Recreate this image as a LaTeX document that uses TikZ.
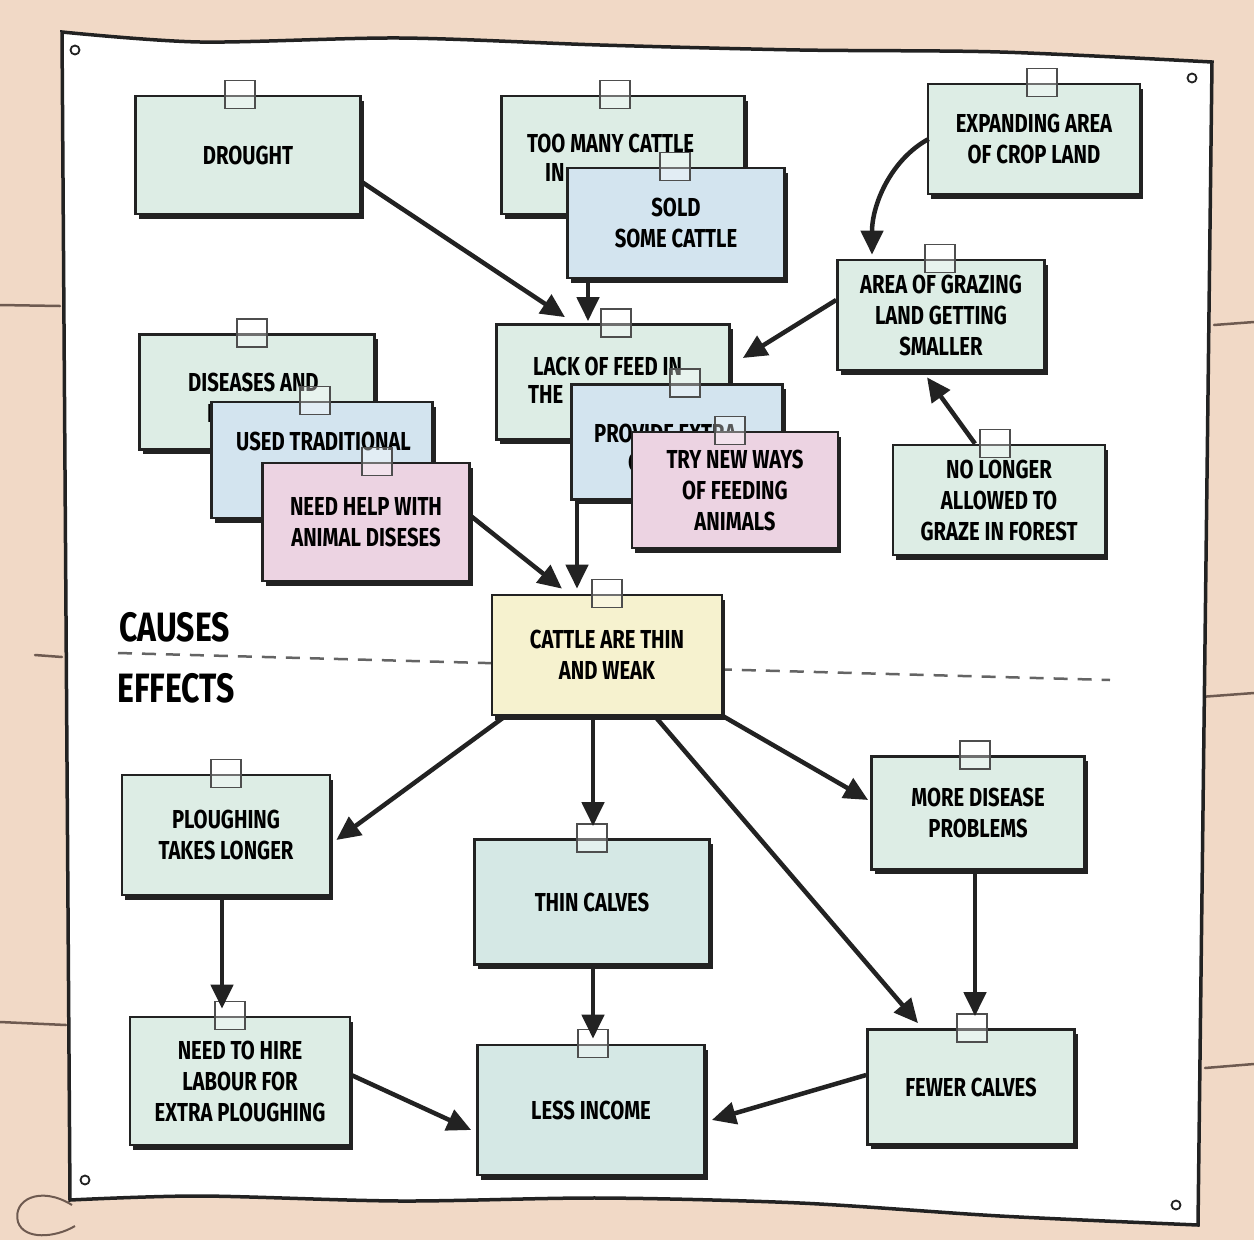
\documentclass[tikz,border=0pt]{standalone}
\usepackage{fontspec}
\newfontfamily\handfont{Fira Sans}[FakeStretch=0.78]
\usetikzlibrary{arrows.meta,shadows,calc}
\definecolor{bg}{HTML}{F1D9C6}
\definecolor{plank}{HTML}{6E5A50}
\definecolor{cgreen}{HTML}{DDEDE5}
\definecolor{cblue}{HTML}{D3E4EF}
\definecolor{cpink}{HTML}{ECD3E2}
\definecolor{cyellow}{HTML}{F6F2CF}
\definecolor{cteal}{HTML}{D5E8E5}
\definecolor{ink}{HTML}{222222}
\tikzset{
  card/.style={rectangle, draw=ink, line width=2.7pt, align=center, inner sep=4pt,
    font=\handfont\bfseries\fontsize{26}{31}\selectfont,
    drop shadow={shadow xshift=3pt, shadow yshift=-4.5pt, fill=ink, opacity=1}},
  sz/.style 2 args={minimum width=#1, minimum height=#2},
  handtext/.style={anchor=west, inner sep=0pt, font=\handfont\bfseries\fontsize{26}{31}\selectfont},
  bigtext/.style={anchor=west, inner sep=0pt, font=\handfont\bfseries\fontsize{41}{44}\selectfont},
  tapest/.style={draw=ink!80, line width=1.6pt, fill=white, fill opacity=0.35},
  arr/.style={draw=ink, line width=4.5pt, -{Triangle[length=24pt,width=22pt]}},
  poster/.style={draw=ink, line width=3.5pt, fill=white},
  plankline/.style={draw=plank, line width=2.5pt, line cap=round},
  divider/.style={draw=ink!70, line width=2.5pt, dash pattern=on 14pt off 10pt},
  pin/.style={draw=ink, line width=1.8pt, fill=white}
}
\newcommand\tapeon[2]{\draw[tapest] ($(#1.north)+(#2-15,-14)$) rectangle ($(#1.north)+(#2+15,14)$);}
\begin{document}
\begin{tikzpicture}[x=1pt,y=-1pt]
\useasboundingbox (0,0) rectangle (1254,1240);
\fill[bg] (0,0) rectangle (1254,1240);
% planks
\draw[plankline] (0,305) -- (60,306);
\draw[plankline] (35,655) -- (62,657);
\draw[plankline] (0,1022) -- (66,1025);
\draw[plankline] (1214,325) -- (1254,322);
\draw[plankline] (1200,697) -- (1254,693);
\draw[plankline] (1205,1068) -- (1254,1064);
\draw[plank, line width=2pt] (72,1205) .. controls (40,1185) and (12,1200) .. (18,1222) .. controls (24,1240) and (55,1238) .. (75,1226);
% poster
\draw[poster] plot[smooth] coordinates {(62,32) (200,42) (400,38) (600,45) (800,50) (1000,52) (1212,62)}
  -- (1198,1225)
  -- plot[smooth] coordinates {(1198,1225) (1000,1216) (800,1203) (600,1198) (400,1201) (200,1196) (70,1200)}
  -- cycle;
\draw[pin] (75,50) circle (4.5);
\draw[pin] (1192,78) circle (4.5);
\draw[pin] (85,1180) circle (4.5);
\draw[pin] (1176,1205) circle (4.5);
% divider
\coordinate (divL) at (118,653);
\coordinate (divR) at (1110,680);
\draw[divider] (divL) -- (divR);
\node[bigtext] (causes) at (119,627) {CAUSES};
\node[bigtext] (effects) at (117,688) {EFFECTS};
% causes cards
\node[card, sz={225pt}{118pt}, fill=cgreen] (drought) at (248,155) {DROUGHT};
\tapeon{drought}{-8}
\node[card, sz={243pt}{118pt}, fill=cgreen] (toomany) at (623,155) {};
\tapeon{toomany}{-8}
\node[handtext] (toomanyA) at (527,143) {TOO MANY CATTLE};
\node[handtext] (toomanyB) at (545,172) {IN};
\node[card, sz={217pt}{110pt}, fill=cblue] (sold) at (676,223) {SOLD\\SOME CATTLE};
\tapeon{sold}{-1}
\node[card, sz={212pt}{110pt}, fill=cgreen] (expand) at (1034,139) {EXPANDING AREA\\OF CROP LAND};
\tapeon{expand}{8}
\node[card, sz={207pt}{110pt}, fill=cgreen] (grazing) at (941,315) {AREA OF GRAZING\\LAND GETTING\\SMALLER};
\tapeon{grazing}{-1}
\node[card, sz={233pt}{115pt}, fill=cgreen] (lack) at (613,382) {};
\tapeon{lack}{3}
\node[handtext] (lackA) at (533,366) {LACK OF FEED IN};
\node[handtext] (lackB) at (528,394) {THE};
\node[card, sz={211pt}{115pt}, fill=cblue] (provide) at (677,442) {};
\tapeon{provide}{8}
\node[handtext] (provideA) at (594,433) {PROVIDE EXTRA};
\node[handtext] (provideB) at (628,462) {C};
\node[card, sz={206pt}{116pt}, fill=cpink] (trynew) at (735,490) {TRY NEW WAYS\\OF FEEDING\\ANIMALS};
\tapeon{trynew}{-5}
\node[card, sz={235pt}{115pt}, fill=cgreen] (diseases) at (257,392) {};
\tapeon{diseases}{-5}
\node[handtext] (diseasesA) at (188,382) {DISEASES AND};
\node[handtext] (diseasesB) at (207,413) {P};
\node[card, sz={221pt}{116pt}, fill=cblue] (used) at (322,460) {};
\tapeon{used}{-7}
\node[handtext] (usedA) at (236,441) {USED TRADITIONAL};
\node[card, sz={207pt}{118pt}, fill=cpink] (needhelp) at (366,522) {NEED HELP WITH\\ANIMAL DISESES};
\tapeon{needhelp}{11}
\node[card, sz={212pt}{110pt}, fill=cgreen] (nolonger) at (999,500) {NO LONGER\\ALLOWED TO\\GRAZE IN FOREST};
\tapeon{nolonger}{-4}
% central card
\node[card, sz={230pt}{120pt}, fill=cyellow] (thin) at (607,655) {CATTLE ARE THIN\\AND WEAK};
\tapeon{thin}{0}
% effects cards
\node[card, sz={208pt}{120pt}, fill=cgreen] (plough) at (226,835) {PLOUGHING\\TAKES LONGER};
\tapeon{plough}{0}
\node[card, sz={235pt}{125pt}, fill=cteal] (calves) at (592,902) {THIN CALVES};
\tapeon{calves}{0}
\node[card, sz={213pt}{113pt}, fill=cgreen] (disease) at (978,813) {MORE DISEASE\\PROBLEMS};
\tapeon{disease}{-3}
\node[card, sz={220pt}{128pt}, fill=cgreen] (hire) at (240,1081) {NEED TO HIRE\\LABOUR FOR\\EXTRA PLOUGHING};
\tapeon{hire}{-10}
\node[card, sz={227pt}{130pt}, fill=cteal] (income) at (591,1110) {LESS INCOME};
\tapeon{income}{2}
\node[card, sz={207pt}{115pt}, fill=cgreen] (fewer) at (971,1087) {FEWER CALVES};
\tapeon{fewer}{1}
% arrows
\draw[arr] ($(drought.east)+(0,27)$) -- ($(lack.north)+(-48,-6)$);
\draw[arr] ($(sold.south)+(-88,0)$) -- ($(lack.north)+(-25,-2)$);
\draw[arr] ($(expand.west)+(2,0)$) .. controls ($(expand.west)+(-35,20)$) and ($(grazing.north)+(-69,-55)$) .. ($(grazing.north)+(-69,-4)$);
\draw[arr] ($(grazing.west)+(0,-15)$) -- ($(lack.east)+(12,-24)$);
\draw[arr] ($(nolonger.north)+(-24,0)$) -- ($(grazing.south)+(-14,6)$);
\draw[arr] ($(needhelp.east)+(0,-6)$) -- ($(thin.north)+(-45,-5)$);
\draw[arr] ($(provide.south)+(-100,0)$) -- ($(thin.north)+(-30,-5)$);
\draw[arr] ($(thin.south)+(-102,0)$) -- ($(plough.east)+(5,5)$);
\draw[arr] ($(thin.south)+(-14,0)$) -- ($(calves.north)+(1,-12)$);
\draw[arr] ($(thin.south)+(48,0)$) -- ($(fewer.north)+(-53,-5)$);
\draw[arr] (thin.south east) -- ($(disease.west)+(-2,-13)$);
\draw[arr] ($(plough.south)+(-4,0)$) -- ($(hire.north)+(-18,-7)$);
\draw[arr] ($(calves.south)+(1,0)$) -- ($(income.north)+(2,-5)$);
\draw[arr] ($(disease.south)+(-3,0)$) -- ($(fewer.north)+(4,-12)$);
\draw[arr] ($(hire.east)+(0,-6)$) -- ($(income.west)+(-5,20)$);
\draw[arr] ($(fewer.west)+(0,-12)$) -- ($(income.east)+(6,10)$);
\end{tikzpicture}
\end{document}
